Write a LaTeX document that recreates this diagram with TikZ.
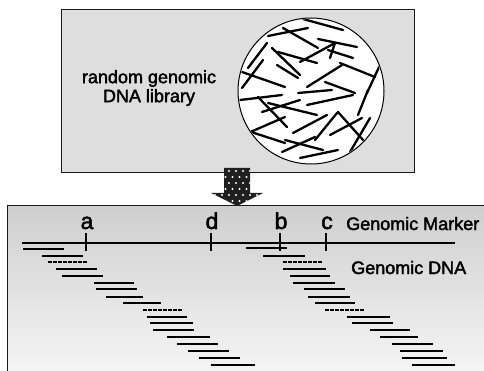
\documentclass[tikz,border=0pt]{standalone}
\usepackage{fontspec}
\setmainfont{Liberation Sans}
\newfontfamily\heavysans[FakeBold=2.2]{Liberation Sans}
\begin{document}
\begin{tikzpicture}[x=1pt,y=-1pt,
  boxline/.style={line width=1pt, draw=black!90},
  frag/.style={line width=2.3pt, line cap=round},
  clone/.style={line width=2.1pt},
  dclone/.style={line width=2.1pt, dash pattern=on 3.5pt off 1.5pt},
  tickline/.style={line width=1.1pt},
  lbl/.style={font=\heavysans\fontsize{18}{19}\selectfont, inner sep=0pt},
  mk/.style={font=\heavysans\fontsize{23}{24}\selectfont, inner sep=0pt, anchor=base}]
\useasboundingbox (0,0) rectangle (484,371);

% top box
\path[fill=black!13, boxline] (61,10) rectangle (414,173);
\node[lbl, align=center] (lib) at (149,88) {random genomic\\DNA library};

% plate
\coordinate (pc) at (311,91);
\path[fill=white] (pc) circle (73);
\begin{scope}
\clip (pc) circle (72);
\foreach \xa/\ya/\xb/\yb in {
 303/19/343/30, 283/28/318/48, 268/36/308/28, 318/39/357/47,
 300/62/335/43, 335/43/330/58, 328/50/353/58, 272/48/300/75,
 278/52/317/63, 248/68/267/43, 242/88/263/60, 242/72/285/87,
 277/65/298/78, 307/87/342/65, 340/63/375/77, 380/65/367/93,
 325/82/355/93, 240/100/282/95, 258/97/287/127, 268/103/317/115,
 298/93/332/90, 307/105/353/95, 358/115/368/90, 248/133/285/117,
 245/130/285/143, 293/133/327/115, 315/140/337/113, 338/112/363/140,
 330/135/362/118, 285/140/323/150, 282/152/315/137, 350/152/370/118,
 300/158/338/150, 262/112/300/100}
  \draw[frag] (\xa,\ya) -- (\xb,\yb);
\end{scope}
\draw[line width=1pt] (pc) circle (73);

% arrow
\def\arrowpath{(224,168) -- (250,168) -- (250,193) -- (263,193) -- (237,206) -- (211,193) -- (224,193) -- cycle}
\fill[black!88] \arrowpath;
\begin{scope}
\clip \arrowpath;
\foreach \j in {0,...,6} {
  \foreach \i in {0,...,8} {
    \pgfmathsetmacro{\xx}{208+\i*7+mod(\j,2)*3.5}
    \pgfmathsetmacro{\yy}{171+\j*6}
    \fill[white] (\xx,\yy) circle (1.1);
  }
}
\end{scope}

% bottom panel
\shade[top color=black!19, bottom color=black!4] (7,206) rectangle (484,371);
\draw[boxline] (7,371) -- (7,206) -- (484,206);

% genomic marker line
\coordinate (ml) at (22,243);
\coordinate (mr) at (455,243);
\draw[line width=2.8pt] (ml) -- (mr);
\foreach \x/\t/\nm in {86/a/ma, 211/d/md, 280/b/mb, 326/c/mc} {
  \draw[tickline] (\x,233) -- (\x,251);
  \node[mk] (\nm) at (\x+1,229) {\t};
}
\node[lbl, anchor=base west] (gm) at (346,230) {Genomic Marker};
\node[lbl, anchor=base west] (gd) at (351,274) {Genomic DNA};

% clones left
\foreach \a/\b/\y in {23/64/249, 42/83/256, 56/97/269, 62/103/276,
  94/134/283, 96/137/289, 106/143/297, 123/161/303, 147/187/317,
  150/193/323, 153/194/330, 167/210/337, 177/218/344, 188/229/351,
  199/240/358, 211/255/365}
  \draw[clone] (\a,\y) -- (\b,\y);
\draw[dclone] (48,262) -- (88,262);
\draw[dclone] (143,310) -- (183,310);
% clones right
\foreach \a/\b/\y in {246/287/248, 263/305/256, 283/326/269, 290/330/276,
  293/335/283, 304/345/289, 308/350/297, 315/355/303, 347/390/317,
  352/393/323, 370/410/330, 380/418/337, 392/433/344, 400/443/351,
  402/447/358, 412/455/365}
  \draw[clone] (\a,\y) -- (\b,\y);
\draw[dclone] (283,262) -- (323,262);
\draw[dclone] (325,310) -- (365,310);
\end{tikzpicture}
\end{document}
